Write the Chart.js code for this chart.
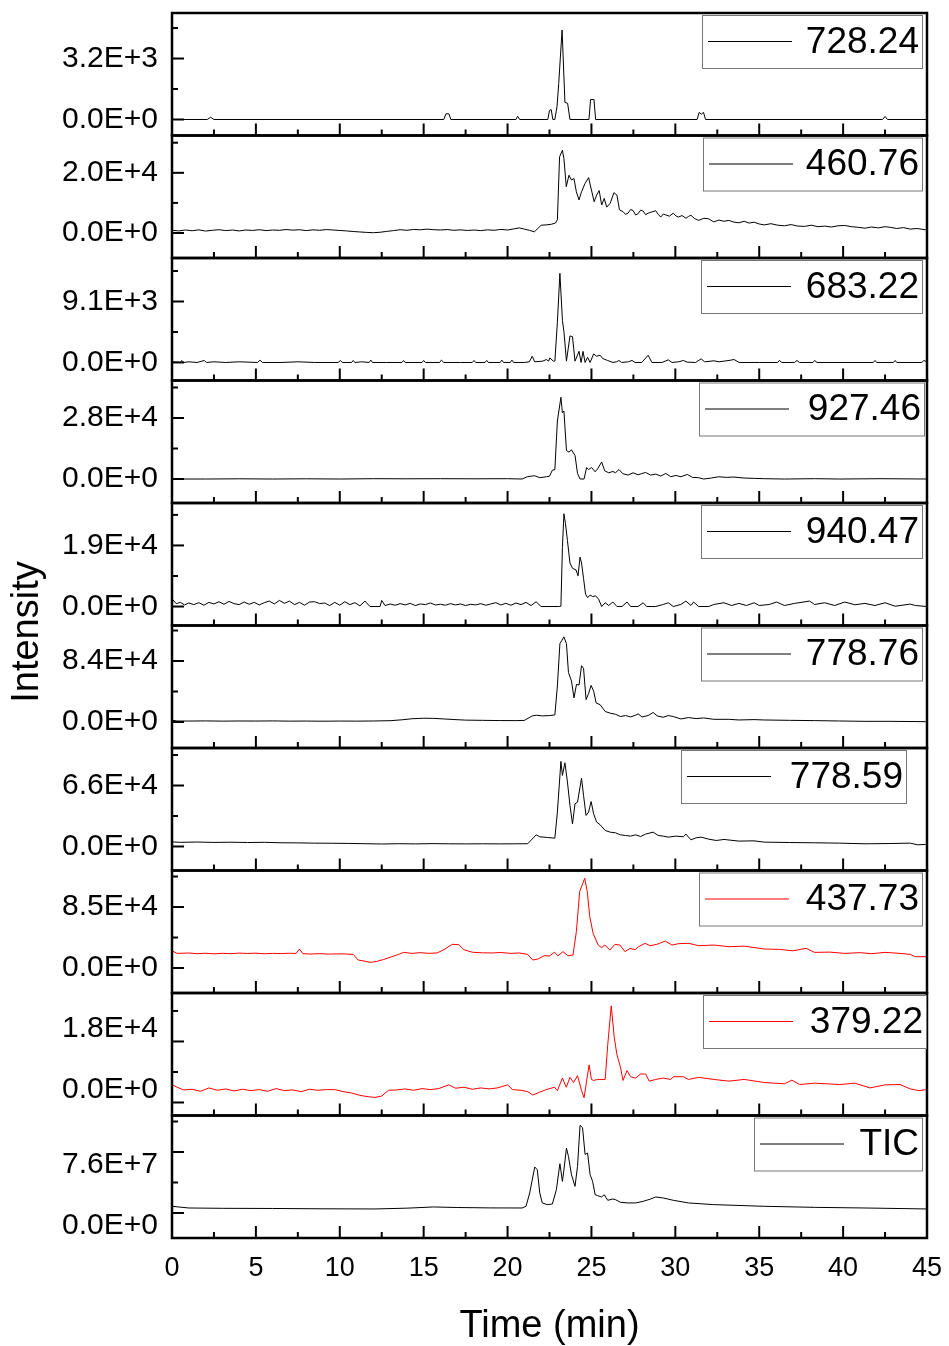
<!DOCTYPE html>
<html>
<head>
<meta charset="utf-8">
<script src="https://cdn.jsdelivr.net/npm/chart.js@4.4.1/dist/chart.umd.min.js"></script>
<style>
  html, body { margin: 0; padding: 0; background: #fff; }
</style>
</head>
<body>
<canvas id="chart" width="949" height="1346"></canvas>
<script>
// --- DATA (time in min, intensity in counts) ---
const names = ["728.24", "460.76", "683.22", "927.46", "940.47", "778.76", "778.59", "437.73", "379.22", "TIC"];
const colors = ["#000", "#000", "#000", "#000", "#000", "#000", "#000", "#ff0000", "#ff0000", "#000"];
const tickValues = [3200, 20000, 9100, 28000, 19000, 84000, 66000, 85000, 18000, 7.6e7];
const yMins = [-840, -8300, -2690, -11000, -5900, -35800, -26000, -34800, -3840, -3.12e7];
const yMaxs = [5590, 32400, 15590, 45200, 32200, 132900, 106600, 135900, 32300, 1.215e8];
const xTicks = [0, 5, 10, 15, 20, 25, 30, 35, 40, 45];

const m728 = [[0,0],[2.1,0],[2.3,120],[2.5,0],[16.2,0],[16.33,300],[16.5,300],[16.62,0],[20.5,0],[20.6,170],[20.72,0],[22.4,0],[22.5,480],[22.6,520],[22.7,0],[22.82,0],[22.95,700],[23.05,1900],[23.25,4700],[23.42,900],[23.58,850],[23.72,0],[24.85,0],[24.95,1050],[25.15,1050],[25.25,0],[31.3,0],[31.42,370],[31.55,280],[31.68,370],[31.8,0],[42.35,0],[42.5,160],[42.65,0],[45,0]];

const m460 = [[0,900],[0.4,700],[0.8,1000],[1.2,750],[1.6,1050],[2,650],[2.4,900],[2.8,1100],[3.2,800],[3.6,1000],[4,700],[4.4,1000],[4.8,850],[5.2,1100],[5.6,800],[6,1000],[6.4,900],[6.8,1150],[7.2,950],[7.6,1100],[8,800],[8.4,1050],[8.8,900],[9.2,1150],[9.6,1000],[10,850],[10.4,700],[10.8,500],[11.2,350],[11.6,200],[12,100],[12.4,250],[12.8,550],[13.2,800],[13.6,1100],[14,900],[14.4,1200],[14.8,1050],[15.2,1300],[15.6,1100],[16,1000],[16.4,1150],[16.8,900],[17.2,1050],[17.6,850],[18,1000],[18.4,800],[18.8,1050],[19.2,900],[19.6,1200],[20,1000],[20.4,1400],[20.7,1700],[21,1300],[21.3,900],[21.6,400],[21.8,1500],[22,2600],[22.3,2700],[22.6,2900],[22.85,3300],[22.97,4400],[23.1,25300],[23.27,27500],[23.36,24700],[23.5,15400],[23.66,19200],[23.81,17600],[23.96,18100],[24.1,13700],[24.26,11000],[24.41,13700],[24.62,16500],[24.83,18400],[25.0,14300],[25.16,10400],[25.31,12600],[25.46,14100],[25.61,9300],[25.76,11500],[25.91,8600],[26.12,9900],[26.34,13400],[26.52,12600],[26.67,7700],[26.88,7100],[27.03,6200],[27.18,6600],[27.33,7800],[27.48,7500],[27.63,6000],[27.78,6400],[27.93,7600],[28.08,7300],[28.23,6100],[28.38,6600],[28.6,7000],[28.83,7400],[28.98,6200],[29.13,5300],[29.28,6300],[29.43,6000],[29.65,5600],[29.88,6600],[30.03,5700],[30.18,5300],[30.4,5800],[30.63,4900],[30.78,5500],[30.93,5900],[31.15,4800],[31.39,4200],[31.7,4900],[31.99,4700],[32.29,3700],[32.6,4300],[32.9,3900],[33.19,4200],[33.5,3600],[33.79,3400],[34.1,3900],[34.4,3300],[34.69,3600],[35.0,3000],[35.3,2700],[35.7,3100],[36.1,2600],[36.5,2400],[36.9,2800],[37.3,2300],[37.7,2200],[38.1,2600],[38.5,2100],[38.9,2300],[39.3,2000],[39.7,2400],[40.1,2500],[40.5,2100],[40.9,1900],[41.3,1600],[41.7,2000],[42.1,1700],[42.5,2100],[42.8,1900],[43.2,1500],[43.6,1800],[44.0,1300],[44.4,1500],[44.9,1100],[45,1100]];

const m683 = [[0,100],[0.5,0],[0.58,300],[0.7,0],[1.0,100],[1.5,0],[1.93,300],[2.05,0],[2.5,100],[3.2,0],[4,100],[5.1,0],[5.24,350],[5.4,0],[6.5,0],[7.5,100],[8.5,0],[9.9,0],[10.04,300],[10.15,0],[10.7,0],[10.8,300],[10.9,0],[11.3,100],[11.75,0],[11.85,350],[11.95,0],[12.8,0],[13.7,0],[13.8,300],[13.9,0],[14.9,0],[15.0,300],[15.1,0],[15.95,0],[16.06,350],[16.2,0],[17.2,0],[17.9,0],[18.0,300],[18.1,0],[18.66,0],[18.76,300],[18.86,0],[19.56,0],[19.66,350],[19.76,0],[20.16,0],[20.26,350],[20.36,0],[21.0,0],[21.3,100],[21.47,930],[21.62,100],[22.1,200],[22.31,440],[22.45,200],[22.52,680],[22.73,200],[22.82,200],[22.97,6000],[23.12,13300],[23.27,6300],[23.36,4600],[23.51,200],[23.72,3960],[23.87,3860],[24.02,200],[24.26,1660],[24.38,0],[24.5,1660],[24.62,0],[24.77,780],[24.92,0],[25.13,1270],[25.31,930],[25.52,1080],[25.67,590],[25.97,290],[26.28,0],[26.5,100],[26.64,300],[26.8,0],[27.2,100],[27.42,300],[27.6,0],[28.0,0],[28.38,1080],[28.6,0],[29.2,0],[29.58,390],[29.8,0],[30.2,100],[30.48,300],[30.7,50],[31.2,0],[31.54,540],[31.75,100],[32.3,250],[32.6,100],[33.2,300],[33.5,440],[33.8,0],[35,0],[36.1,0],[36.2,300],[36.35,0],[37.1,0],[37.25,300],[37.4,0],[38.2,0],[38.3,300],[38.45,0],[41.8,0],[41.9,300],[42.0,0],[43.0,0],[43.1,300],[43.2,0],[44.7,0],[44.8,300],[45,100]];

const m927 = [[0,0],[2,0],[4,100],[6,0],[8,100],[10,0],[12,150],[14,100],[16,150],[18,100],[20,150],[20.87,0],[21.17,1050],[21.4,1300],[21.62,1500],[21.92,600],[22.31,1050],[22.5,1300],[22.67,4060],[22.82,4360],[22.97,26600],[23.18,37500],[23.27,30400],[23.36,31150],[23.51,13100],[23.66,12340],[23.81,13400],[24.02,10840],[24.17,2560],[24.32,0],[24.56,0],[24.71,5270],[24.83,4360],[25.01,5270],[25.22,3310],[25.37,4670],[25.61,7830],[25.79,3760],[26.03,2860],[26.28,3460],[26.43,2860],[26.64,4360],[26.88,2410],[27.18,1800],[27.48,2860],[27.78,1960],[28.0,2500],[28.23,3010],[28.53,1800],[28.83,2260],[29.13,1350],[29.43,2560],[29.73,1050],[30.03,1650],[30.33,1050],[30.72,2110],[31.02,750],[31.39,600],[31.69,0],[32.14,450],[32.59,1050],[33.04,750],[33.49,900],[34.1,450],[34.7,300],[35.3,150],[36.5,0],[38.3,150],[39.8,0],[42.2,150],[45,0]];

const m940 = [[0,2400],[0.25,900],[0.5,1300],[0.75,500],[1,1100],[1.3,600],[1.6,1200],[1.9,400],[2.2,1300],[2.5,800],[2.8,1500],[3.1,700],[3.4,1600],[3.7,900],[4,600],[4.3,1400],[4.6,700],[4.9,1300],[5.2,500],[5.5,1200],[5.8,1700],[6.1,800],[6.4,1900],[6.7,1000],[7.0,1700],[7.3,600],[7.6,1300],[7.9,400],[8.2,1400],[8.5,1500],[8.8,900],[9.1,1100],[9.4,300],[9.7,1300],[10,400],[10.3,1500],[10.6,600],[10.9,1200],[11.2,200],[11.5,1700],[11.8,0],[12.1,0],[12.4,0],[12.5,1900],[12.7,300],[13,800],[13.3,400],[13.6,900],[13.9,500],[14.2,1000],[14.5,300],[14.8,800],[15.1,600],[15.4,1100],[15.7,500],[16,700],[16.3,400],[16.6,900],[16.9,500],[17.2,800],[17.5,300],[17.8,700],[18.1,500],[18.4,900],[18.7,400],[19,800],[19.3,1200],[19.6,500],[19.9,1000],[20.2,400],[20.5,1100],[20.8,600],[21.1,1300],[21.4,300],[21.7,1500],[22.0,0],[23.05,0],[23.18,100],[23.27,18350],[23.36,28860],[23.45,25860],[23.57,20490],[23.72,13520],[23.87,11900],[24.08,11370],[24.2,9550],[24.32,15340],[24.41,13520],[24.53,8690],[24.65,3860],[24.77,2790],[24.92,3540],[25.07,3110],[25.25,3330],[25.43,2250],[25.61,0],[25.82,1180],[26.03,320],[26.28,1400],[26.52,0],[26.82,0],[27.12,1400],[27.33,0],[27.78,0],[28.08,1180],[28.29,0],[28.83,0],[29.28,640],[29.58,1180],[29.88,0],[30.33,640],[30.63,1700],[30.93,320],[31.09,1400],[31.39,0],[31.99,0],[32.29,640],[32.9,1180],[33.35,320],[33.79,970],[34.24,320],[34.7,1180],[35.0,320],[35.6,640],[36.04,1400],[36.5,320],[37.1,970],[38.0,1700],[38.3,640],[38.9,1180],[39.5,320],[40.1,1400],[40.7,540],[41.3,970],[41.9,320],[42.5,1180],[43.1,100],[44.0,750],[44.3,320],[45,0]];

const m778a = [[0,2500],[0.3,1400],[1,1300],[2,1500],[3,1200],[4,1400],[5,1300],[6,1500],[7,1200],[8,1300],[9,1100],[10,1300],[11,1200],[12,1400],[13,1800],[13.7,3000],[14.3,4500],[15,5200],[15.6,5000],[16.2,4200],[16.8,3400],[17.5,2600],[18.5,2300],[19.5,2000],[20.5,1900],[21,2200],[21.47,8400],[21.71,9340],[22.07,8400],[22.52,8870],[22.82,9800],[22.97,49500],[23.12,107900],[23.24,112500],[23.36,117200],[23.51,107900],[23.63,68200],[23.81,56500],[23.96,33200],[24.11,51800],[24.26,50900],[24.41,77500],[24.53,73800],[24.68,30800],[24.83,39200],[24.98,50400],[25.13,42500],[25.28,26200],[25.52,23800],[25.82,14500],[26.12,12100],[26.43,10700],[26.73,7500],[27.03,8900],[27.33,7000],[27.63,9300],[27.78,11200],[28.02,7000],[28.38,8900],[28.68,13100],[28.92,8400],[29.28,6500],[29.58,8900],[29.88,7500],[30.33,4200],[30.78,6100],[31.24,4700],[31.69,5600],[32.29,3700],[33.19,3700],[33.79,2800],[34.69,3300],[35.3,2800],[36.8,2300],[38.3,1900],[39.8,1400],[41.3,930],[42.8,930],[44.9,470],[45,470]];

const m778b = [[0,5000],[0.5,4500],[1.5,4800],[2.5,4400],[3.5,4600],[4.5,4300],[5.5,4500],[6.5,4000],[7.5,3900],[8.5,3600],[9.5,3500],[10.5,3300],[11.5,3000],[12.5,2700],[13.5,3000],[14.5,2800],[15.5,3100],[16.5,2900],[17.5,2800],[18.5,2900],[19.5,2800],[20.5,2900],[21.2,3000],[21.71,12600],[21.92,10500],[22.37,9700],[22.82,9000],[22.97,37200],[23.18,92100],[23.27,76900],[23.42,90600],[23.57,69700],[23.72,44400],[23.87,24500],[24.02,46200],[24.17,48000],[24.41,74000],[24.53,55200],[24.68,33600],[24.83,37200],[24.98,48700],[25.13,35400],[25.31,26400],[25.52,23500],[25.82,17300],[26.12,15500],[26.43,14800],[26.73,12600],[27.03,11900],[27.33,11200],[27.63,12600],[27.93,10800],[28.23,13400],[28.68,15500],[28.98,11900],[29.28,11200],[29.58,10100],[30.03,11200],[30.48,10500],[30.63,13400],[30.93,7200],[31.24,9400],[31.54,10100],[31.99,7900],[32.44,6500],[32.9,7600],[33.79,5800],[34.69,6100],[35.3,4700],[36.8,4300],[38.3,4000],[39.8,3600],[41.3,2900],[42.8,3200],[44.0,3600],[44.45,1800],[44.9,2200],[45,2200]];

const m437 = [[0,24000],[0.3,20400],[1,20900],[1.5,20000],[2,20600],[2.5,19800],[3,20500],[3.5,20000],[4,20800],[4.5,20300],[5,20700],[5.5,19900],[6,20400],[6.5,20100],[7,20600],[7.4,20300],[7.6,26500],[7.8,20000],[8.2,19500],[8.8,20000],[9.3,19400],[9.8,19700],[10.3,19600],[10.8,19000],[11.1,11100],[11.5,9500],[11.8,7900],[12.2,9200],[12.6,11800],[13.1,15800],[13.5,19000],[13.8,21800],[14.3,20400],[14.8,21400],[15.3,20500],[15.8,21000],[16.2,25500],[16.7,33000],[17.1,32500],[17.4,25500],[17.9,22000],[18.5,21200],[19.1,21000],[19.6,21600],[20.2,20400],[20.7,21000],[21.2,19000],[21.5,11100],[21.8,12500],[22.2,17200],[22.5,16800],[22.8,22000],[23.0,17000],[23.3,22800],[23.6,17200],[23.9,18100],[24.1,50600],[24.3,106400],[24.6,125000],[24.75,106400],[24.9,71500],[25.1,48300],[25.4,32000],[25.6,28300],[25.8,32000],[26.1,25100],[26.4,33000],[26.7,32000],[27.0,22800],[27.3,27400],[27.6,25500],[27.8,29700],[28.2,34400],[28.5,31100],[28.9,33000],[29.4,37600],[29.8,32000],[30.2,34000],[30.8,34400],[31.4,31100],[32.3,32000],[33.2,29700],[34.1,30500],[35.3,26500],[36.2,26000],[37.0,24000],[37.8,27400],[38.3,21800],[39.2,22200],[40.1,20400],[41,21400],[41.7,20000],[42.5,21800],[43.4,20400],[44.0,19000],[44.3,15800],[45,15800]];

const m379 = [[0,5300],[0.3,4500],[0.7,3700],[1.2,3900],[1.7,3300],[2.2,4300],[2.7,3600],[3.2,4000],[3.7,3400],[4.2,3900],[4.7,3500],[5.2,3800],[5.7,3300],[6.2,4100],[6.7,3500],[7.2,3700],[7.7,3200],[8.2,3900],[8.7,3600],[9.2,3800],[9.7,3800],[10.2,3200],[10.7,2800],[11.2,2100],[11.7,1700],[12.1,1500],[12.5,1900],[12.9,3600],[13.4,3700],[13.9,4000],[14.4,3600],[14.9,4100],[15.4,3800],[15.9,4100],[16.5,5200],[16.9,4200],[17.4,4500],[17.9,3900],[18.4,4300],[18.9,4000],[19.4,4300],[20.0,5200],[20.3,3800],[20.8,3600],[21.2,3200],[21.5,2200],[21.9,3000],[22.3,3800],[22.8,4500],[22.97,3500],[23.27,7200],[23.5,4500],[23.72,7400],[23.93,5900],[24.17,7900],[24.41,3500],[24.56,1400],[24.71,6300],[24.86,11100],[25.0,6800],[25.13,6500],[25.37,6800],[25.82,6800],[25.97,17000],[26.18,28500],[26.36,19200],[26.52,14100],[26.73,10400],[26.88,6500],[27.12,9400],[27.33,7600],[27.63,7200],[27.93,8400],[28.23,8400],[28.44,6300],[28.83,6800],[29.28,7200],[29.73,6800],[29.88,7600],[30.48,7600],[30.78,6800],[31.39,7400],[32.29,6800],[33.2,6300],[34.1,6800],[35.3,5900],[36.5,5500],[36.95,6600],[37.4,5300],[38.3,5700],[39.8,5300],[40.7,5700],[41.6,4300],[42.5,5200],[43.4,5300],[44.0,4000],[44.5,3500],[45,3800]];

const tic = [[0,8.3e6],[1,6.2e6],[3,5.8e6],[6,5.6e6],[9,5.2e6],[12.1,5.0e6],[14,6.0e6],[15.6,7.5e6],[17,6.8e6],[19,6.3e6],[20.87,6.2e6],[21.1,8.3e6],[21.32,2.49e7],[21.62,5.73e7],[21.77,5.4e7],[21.92,2.49e7],[22.07,1.25e7],[22.37,1.04e7],[22.67,1.12e7],[22.91,2.91e7],[23.12,6.14e7],[23.27,3.94e7],[23.36,5.39e7],[23.51,8.09e7],[23.63,7.05e7],[23.81,4.77e7],[24.02,3.32e7],[24.17,5.81e7],[24.32,1.092e8],[24.47,1.063e8],[24.62,7.3e7],[24.77,7.47e7],[24.92,4.77e7],[25.07,3.94e7],[25.22,2.28e7],[25.37,2.16e7],[25.61,1.99e7],[25.76,2.28e7],[25.97,1.58e7],[26.28,1.74e7],[26.43,1.66e7],[26.73,1.33e7],[27.18,1.25e7],[27.63,1.25e7],[28.08,1.45e7],[28.53,1.74e7],[28.83,1.99e7],[29.28,1.87e7],[29.88,1.58e7],[30.78,1.25e7],[32.29,1.04e7],[35.3,8.3e6],[38.3,7.0e6],[41.3,6.2e6],[45,5.0e6]];

const series = [m728, m460, m683, m927, m940, m778a, m778b, m437, m379, tic];

// --- LAYOUT / STYLE ---
const FONT = '"Liberation Sans", Arial, sans-serif';
const legendBoxes = [[702, 922], [703, 922], [701, 922], [699, 924], [701, 922], [701, 922], [681, 906], [699, 922], [703, 926], [754, 922]];
const labelShift = [0, 0, 0, 0, 0, 0, 0, 0, -13, 13];

Chart.defaults.font.family = FONT;
Chart.defaults.color = "#000";

function fmtTick(v) {
    return Number(v).toExponential(1).toUpperCase();
}

// drop the half-label padding Chart.js reserves around axes
function noPad(s) {
    s.paddingTop = 0;
    s.paddingBottom = 0;
    s.paddingLeft = 0;
    s.paddingRight = 0;
}

const scales = {
    x: {
        type: "linear",
        position: "bottom",
        min: 0,
        max: 45,
        afterBuildTicks: s => { s.ticks = xTicks.map(v => ({ value: v })); },
        afterFit: s => { s.height = 108; noPad(s); },
        grid: { display: false, drawTicks: false },
        border: { display: false },
        ticks: { autoSkip: false, maxRotation: 0, padding: 14, font: { size: 27 } },
        title: { display: true, text: "Time (min)", font: { size: 38 }, padding: { top: 0, bottom: -3 } }
    }
};

// left boxes get placed in reverse order, so add the bottom panel first
for (let i = series.length - 1; i >= 0; i--) {
    scales["y" + i] = {
        type: "linear",
        position: "left",
        stack: "panels",
        stackWeight: 1,
        min: yMins[i],
        max: yMaxs[i],
        afterBuildTicks: s => { s.ticks = [{ value: 0 }, { value: tickValues[i] }]; },
        afterFit: s => { s.width = 172; noPad(s); },
        grid: { display: false, drawTicks: false },
        border: { display: false },
        ticks: { padding: 14, labelOffset: labelShift[i], font: { size: 30 }, callback: v => fmtTick(v) }
    };
}

function strokeLine(ctx, x1, y1, x2, y2) {
    ctx.beginPath();
    ctx.moveTo(x1, y1);
    ctx.lineTo(x2, y2);
    ctx.stroke();
}

// frames, inward ticks and per-panel legends
const panelPlugin = {
    id: "panels",
    afterDatasetsDraw(chart) {
        const ctx = chart.ctx;
        const xs = chart.scales.x;
        const { left, right } = chart.chartArea;
        ctx.save();
        ctx.strokeStyle = "#000";
        series.forEach((_, i) => {
            const ys = chart.scales["y" + i];
            const top = ys.top, bottom = ys.bottom;
            ctx.lineWidth = 2;
            [-0.5, 0, 0.5, 1, 1.5].forEach(k => {
                const v = k * tickValues[i];
                if (v <= ys.min || v >= ys.max) return;
                const py = ys.getPixelForValue(v);
                strokeLine(ctx, left, py, left + (Number.isInteger(k) ? 12 : 6), py);
            });
            xTicks.forEach((t, j) => {
                const px = xs.getPixelForValue(t);
                strokeLine(ctx, px, bottom, px, bottom - 12);
                if (j < xTicks.length - 1) {
                    const pm = xs.getPixelForValue((t + xTicks[j + 1]) / 2);
                    strokeLine(ctx, pm, bottom, pm, bottom - 6);
                }
            });
            ctx.lineWidth = 2.5;
            ctx.strokeRect(left, top, right - left, bottom - top);

            // legend box
            const [bl, br] = legendBoxes[i];
            const bt = top + 2, bh = 53, my = bt + bh / 2;
            ctx.lineWidth = 1;
            ctx.strokeStyle = "#777";
            ctx.fillStyle = "#fff";
            ctx.fillRect(bl, bt, br - bl, bh);
            ctx.strokeRect(bl + 0.5, bt + 0.5, br - bl, bh);
            ctx.strokeStyle = colors[i];
            strokeLine(ctx, bl + 6, my, bl + 90, my);
            ctx.fillStyle = "#000";
            ctx.font = "37px " + FONT;
            ctx.textAlign = "right";
            ctx.textBaseline = "middle";
            ctx.fillText(names[i], br - 3, my + 1);
            ctx.strokeStyle = "#000";
        });

        // y title
        ctx.translate(28, 632);
        ctx.rotate(-Math.PI / 2);
        ctx.font = "38px " + FONT;
        ctx.textAlign = "center";
        ctx.textBaseline = "middle";
        ctx.fillStyle = "#000";
        ctx.fillText("Intensity", 0, 0);
        ctx.restore();
    }
};

new Chart(document.getElementById("chart"), {
    type: "line",
    data: {
        datasets: series.map((pts, i) => ({
            label: names[i],
            data: pts.map(p => ({ x: p[0], y: p[1] })),
            yAxisID: "y" + i,
            borderColor: colors[i],
            borderWidth: 1,
            pointRadius: 0,
            tension: 0,
            fill: false
        }))
    },
    options: {
        responsive: false,
        animation: false,
        layout: { padding: { top: 13, right: 22, left: 0, bottom: 0 } },
        plugins: { legend: { display: false }, tooltip: { enabled: false } },
        scales: scales
    },
    plugins: [panelPlugin]
});
</script>
</body>
</html>
